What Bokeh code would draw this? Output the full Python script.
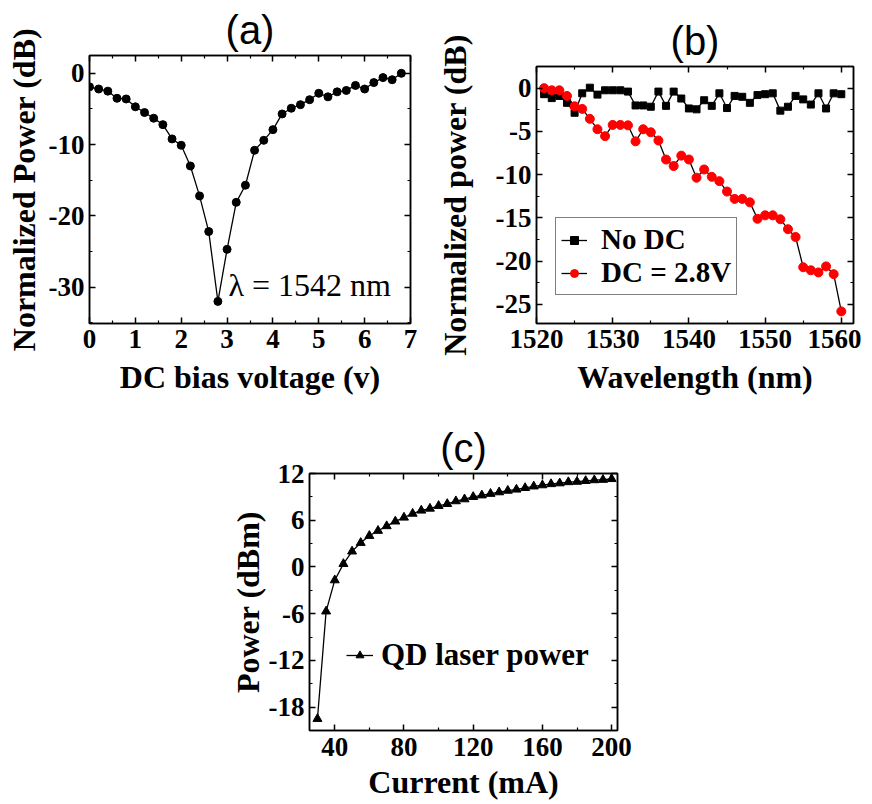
from bokeh.plotting import figure
from bokeh.models import (FixedTicker, LinearAxis, Label, Legend, LegendItem, Range1d,
                          Spacer, CustomJSTickFormatter, CustomLabelingPolicy)
from bokeh.layouts import column, row
from bokeh.embed import file_html
from bokeh.resources import INLINE

# ---------------- Data ----------------
# (a) Normalized power vs DC bias voltage
bias_voltage = [0.0, 0.2, 0.4, 0.6, 0.8, 1.0, 1.2, 1.4, 1.6, 1.8, 2.0, 2.2, 2.4, 2.6,
                2.8, 3.0, 3.2, 3.4, 3.6, 3.8, 4.0, 4.2, 4.4, 4.6, 4.8, 5.0, 5.2, 5.4,
                5.6, 5.8, 6.0, 6.2, 6.4, 6.6, 6.8]
bias_power = [-1.9, -2.2, -2.5, -3.5, -3.6, -4.7, -5.5, -6.3, -7.2, -9.2, -10.1, -13.0,
              -17.2, -22.2, -32.0, -24.7, -18.1, -15.7, -10.8, -9.4, -7.9, -5.7, -4.9,
              -4.4, -3.7, -2.8, -3.3, -2.6, -2.4, -1.7, -2.2, -1.3, -0.6, -0.9, 0.0]

# (b) Normalized power vs wavelength
wavelength = [1521, 1522, 1523, 1524, 1525, 1526, 1527, 1528, 1529, 1530,
              1531, 1532, 1533, 1534, 1535, 1536, 1537, 1538, 1539, 1540,
              1541, 1542, 1543, 1544, 1545, 1546, 1547, 1548, 1549, 1550,
              1551, 1552, 1553, 1554, 1555, 1556, 1557, 1558, 1559, 1560]
power_no_dc = [-0.7, -1.15, -0.9, -1.7, -2.85, -0.6, 0.05, -0.75, -0.25, -0.25,
               -0.25, -0.4, -2.0, -2.0, -2.15, -0.4, -2.05, -0.4, -1.2, -2.35,
               -2.45, -1.4, -2.05, -0.6, -2.3, -0.9, -1.0, -1.7, -0.8, -0.7,
               -0.6, -2.6, -2.15, -0.9, -1.3, -1.9, -0.6, -2.35, -0.6, -0.7]
power_dc = [0.0, -0.25, -0.25, -0.9, -2.1, -2.4, -3.55, -4.75, -5.55, -4.25,
            -4.25, -4.3, -6.15, -4.75, -5.1, -6.05, -8.25, -9.0, -7.8, -8.25,
            -10.35, -9.4, -10.25, -10.75, -11.95, -12.8, -12.8, -13.2, -15.1, -14.7,
            -14.7, -15.15, -16.3, -17.2, -20.7, -21.05, -21.3, -20.6, -21.5, -25.8]

# (c) QD laser output power vs current
current_ma = [30, 35, 40, 45, 50, 55, 60, 65, 70, 75, 80, 85, 90, 95, 100, 105, 110,
              115, 120, 125, 130, 135, 140, 145, 150, 155, 160, 165, 170, 175, 180,
              185, 190, 195, 200]
laser_power = [-19.5, -5.7, -1.7, 0.4, 2.0, 3.1, 4.0, 4.65, 5.25, 5.85, 6.35, 6.85,
               7.25, 7.5, 7.85, 8.1, 8.45, 8.7, 9.0, 9.2, 9.4, 9.6, 9.8, 9.95, 10.15,
               10.35, 10.5, 10.65, 10.75, 10.9, 10.95, 11.05, 11.15, 11.2, 11.3]

# ticks
a_xticks = [0, 1, 2, 3, 4, 5, 6, 7]
a_xminor = [0.5, 1.5, 2.5, 3.5, 4.5, 5.5, 6.5]
a_yticks = [-30, -20, -10, 0]
a_yminor = [-35, -25, -15, -5]
b_xticks = [1520, 1530, 1540, 1550, 1560]
b_xminor = [1525, 1535, 1545, 1555]
b_yticks = [-25, -20, -15, -10, -5, 0]
b_yminor = [-27.5, -22.5, -17.5, -12.5, -7.5, -2.5]
c_xticks = [40, 80, 120, 160, 200]
c_xminor = [20, 60, 100, 140, 180]
c_yticks = [-18, -12, -6, 0, 6, 12]
c_yminor = [-21, -15, -9, -3, 3, 9]

SERIF = "Liberation Serif"
SANS = "Liberation Sans"

HIDE_ALL = """
for (const i of indices) {
    indices.unset(i)
}
return indices
"""


def style_axis(ax, ticks, minor, label=None, show_labels=True, label_standoff=0,
               tick_standoff=3):
    ax.ticker = FixedTicker(ticks=ticks, minor_ticks=minor)
    ax.major_tick_in = 6
    ax.major_tick_out = 0
    ax.minor_tick_in = 3
    ax.minor_tick_out = 0
    ax.axis_line_color = "black"
    ax.axis_line_width = 1.5
    ax.major_tick_line_color = "black"
    ax.major_tick_line_width = 1.5
    ax.minor_tick_line_color = "black"
    ax.minor_tick_line_width = 1.2
    if show_labels:
        ax.formatter = CustomJSTickFormatter(code="return tick.toString()")
        ax.major_label_text_font = SERIF
        ax.major_label_text_font_style = "bold"
        ax.major_label_text_font_size = "27px"
        ax.major_label_text_color = "black"
        ax.major_label_standoff = tick_standoff
    else:
        ax.major_label_policy = CustomLabelingPolicy(code=HIDE_ALL)
        ax.major_label_text_font_size = "1px"
        ax.major_label_standoff = 0
    if label:
        ax.axis_label = label
        ax.axis_label_text_font = SERIF
        ax.axis_label_text_font_style = "bold"
        ax.axis_label_text_font_size = "32px"
        ax.axis_label_text_color = "black"
        ax.axis_label_standoff = label_standoff


def make_fig(width, height, xr, yr, bl, br, bt, bb, xt, xm, yt, ym, xlabel, ylabel,
             title, ylabel_standoff=0, xlabel_standoff=8, xtick_standoff=6):
    p = figure(width=width, height=height, x_range=Range1d(*xr), y_range=Range1d(*yr),
               output_backend="svg", toolbar_location=None,
               min_border_left=bl, min_border_right=br, min_border_top=bt,
               min_border_bottom=bb)
    p.grid.visible = False
    p.outline_line_color = "black"
    p.outline_line_width = 1.5
    p.background_fill_color = "white"
    p.border_fill_color = "white"
    p.title.text = title
    p.title.align = "center"
    p.title.text_font = SANS
    p.title.text_font_style = "normal"
    p.title.text_font_size = "40px"
    p.title.text_color = "black"
    p.title.standoff = 0
    style_axis(p.xaxis[0], xt, xm, xlabel, label_standoff=xlabel_standoff,
               tick_standoff=xtick_standoff)
    style_axis(p.yaxis[0], yt, ym, ylabel, label_standoff=ylabel_standoff,
               tick_standoff=5)
    top = LinearAxis()
    style_axis(top, xt, xm, show_labels=False)
    p.add_layout(top, "above")
    right = LinearAxis()
    style_axis(right, yt, ym, show_labels=False)
    p.add_layout(right, "right")
    return p


# ---------------- (a) ----------------
pa = make_fig(432, 397, (0, 7), (-35.1, 2.5), 89, 22, 55, 0,
              a_xticks, a_xminor, a_yticks, a_yminor,
              "DC bias voltage (v)", "Normalized Power (dB)", "(a)",
              ylabel_standoff=4, xlabel_standoff=8, xtick_standoff=6)
pa.line(bias_voltage, bias_power, line_color="black", line_width=1.3)
pa.scatter(bias_voltage, bias_power, marker="circle", size=8,
           fill_color="black", line_color="black")
pa.add_layout(Label(x=3.03, y=-29.7, text="λ = 1542 nm", text_font=SERIF,
                    text_font_size="32px", text_color="black",
                    text_baseline="alphabetic", text_align="left"))

# ---------------- (b) ----------------
pb = make_fig(429, 385, (1520, 1561.6), (-27.2, 2.5), 104, 8, 54, 0,
              b_xticks, b_xminor, b_yticks, b_yminor,
              "Wavelength (nm)", "Normalized power (dB)", "(b)",
              ylabel_standoff=20, xlabel_standoff=8, xtick_standoff=6)
l1 = pb.line(wavelength, power_no_dc, line_color="black", line_width=1.3)
s1 = pb.scatter(wavelength, power_no_dc, marker="square", size=7,
                fill_color="black", line_color="black")
l2 = pb.line(wavelength, power_dc, line_color="black", line_width=1.3)
s2 = pb.scatter(wavelength, power_dc, marker="circle", size=9,
                fill_color="#ff0000", line_color="#ff0000")
leg_b = Legend(items=[LegendItem(label="No DC", renderers=[l1, s1]),
                      LegendItem(label="DC = 2.8V", renderers=[l2, s2])],
               location=(19, 28), margin=0, padding=5, spacing=0,
               glyph_width=26, label_standoff=14,
               label_text_font=SERIF, label_text_font_style="bold",
               label_text_font_size="29px", label_text_color="black",
               border_line_color="black", border_line_width=1.2,
               background_fill_color="white", background_fill_alpha=1)
pb.add_layout(leg_b)

# ---------------- (c) ----------------
pc = make_fig(412, 405, (25.4, 203.4), (-21.0, 12.0), 83, 21, 76, 0,
              c_xticks, c_xminor, c_yticks, c_yminor,
              "Current (mA)", "Power (dBm)", "(c)",
              ylabel_standoff=0, xlabel_standoff=5, xtick_standoff=7)
l3 = pc.line(current_ma, laser_power, line_color="black", line_width=1.3)
s3 = pc.scatter(current_ma, laser_power, marker="triangle", size=9,
                fill_color="black", line_color="black")
leg_c = Legend(items=[LegendItem(label="QD laser power", renderers=[l3, s3])],
               location=(37, 57), margin=0, padding=0, glyph_width=27,
               label_standoff=8,
               label_text_font=SERIF, label_text_font_style="bold",
               label_text_font_size="31px", label_text_color="black",
               border_line_alpha=0, background_fill_alpha=0)
pc.add_layout(leg_c)

layout = column(row(column(pa), column(Spacer(width=429, height=12), pb)),
                row(Spacer(width=226, height=405), pc))

open("out.html", "w").write(file_html(layout, INLINE))
